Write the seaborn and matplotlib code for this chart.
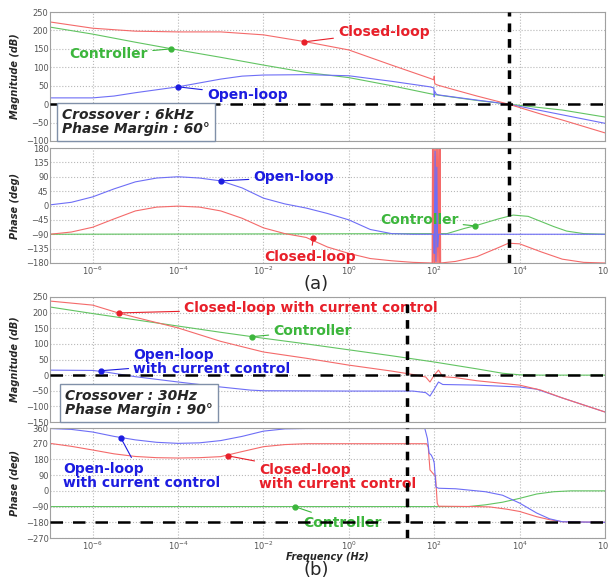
import numpy as np
import pandas as pd
import matplotlib.pyplot as plt
from matplotlib.ticker import NullLocator
import seaborn as sns

sns.set_theme(style="whitegrid")
plt.rcParams['font.family'] = ['DejaVu Sans']

# Frequencies are stored as log10(Hz); magnitude in dB, phase in degrees.

# ---- (a) magnitude ----
a_mag_closed_logf = [-7, -6, -5, -4, -3, -2, -1, 0, 1, 1.9, 1.99, 2.0, 2.01, 2.05, 2.1, 2.5, 3, 3.74, 4.5, 5, 6]
a_mag_closed = [223, 206, 198, 196, 196, 188, 169, 147, 106, 70, 66, 76, 56, 53, 51, 38, 22, 0, -27, -43, -78]
a_mag_ctrl_logf = [-7, -6, -5, -4, -3, -2, -1, 0, 1, 2, 3, 3.74, 5, 6]
a_mag_ctrl = [209, 190, 168, 147, 127, 106, 86, 72, 50, 26, 10, 0, -16, -35]
a_mag_open_logf = [-7, -6, -5.5, -5, -4, -3, -2.5, -2, -1, 0, 1, 1.9, 1.99, 2.0, 2.01, 2.05, 2.1, 3, 3.74, 5, 6]
a_mag_open = [17, 17, 22, 31, 47, 68, 76, 79, 80, 77, 62, 47, 44, 20, 35, 27, 25, 11, 0, -29, -52]

# ---- (a) phase ----
a_ph_open_logf = [-7, -6.5, -6, -5.5, -5, -4.5, -4, -3.5, -3, -2.5, -2, -1.5, -1, -0.5, 0, 0.5, 1, 1.5,
                  1.99, 2.0, 2.02, 2.04, 2.06, 2.08, 2.1, 2.5, 4, 5, 6]
a_ph_open = [2, 10, 27, 52, 74, 86, 90, 86, 77, 55, 23, 5, -8, -25, -45, -75, -88, -90,
             -90, -150, 170, -175, 120, -130, -90, -90, -90, -90, -90]
a_ph_closed_logf = [-7, -6.5, -6, -5.5, -5, -4.5, -4, -3.5, -3, -2.5, -2, -1.5, -1, -0.5, 0, 0.5, 1, 1.5,
                    1.95, 1.96, 1.975, 1.99, 2.005, 2.02, 2.035, 2.05, 2.065, 2.08, 2.095, 2.11, 2.125, 2.14, 2.15,
                    2.5, 3, 3.5, 3.74, 4, 4.5, 5, 5.5, 6]
a_ph_closed = [-90, -83, -68, -42, -17, -5, -2, -5, -17, -40, -70, -88, -100, -130, -150, -166, -173, -178,
               -180, 180, -180, 180, -180, 180, -180, 180, -180, 180, -180, 180, -180, 180, -180,
               -175, -160, -132, -118, -120, -145, -168, -178, -180]
a_ph_ctrl_logf = [-7, 2.3, 2.7, 3, 3.5, 3.85, 4.2, 4.5, 4.8, 5.1, 5.5, 6]
a_ph_ctrl = [-90, -88, -72, -62, -42, -30, -34, -50, -66, -80, -88, -90]

# ---- (b) magnitude ----
b_mag_closed_logf = [-7, -6, -5.4, -5, -4, -3, -2, -1, 0, 1, 1.5, 1.8, 1.9, 2.0, 2.1, 2.2, 2.5, 3, 4, 4.5, 5, 6]
b_mag_closed = [237, 224, 199, 185, 151, 108, 74, 54, 32, 13, 2, -6, -22, 0, 16, -5, -8, -18, -32, -48, -73, -118]
b_mag_ctrl_logf = [-7, -6, -5, -4, -3, -2, -1, 0, 1, 2, 3, 3.6, 4, 4.5, 6]
b_mag_ctrl = [218, 197, 177, 157, 137, 118, 100, 81, 62, 42, 20, 6, 1, 0, 0]
b_mag_open_logf = [-7, -6, -5.7, -5, -4, -3, -2.3, -2, 0, 1.5, 1.8, 1.9, 2.0, 2.1, 2.2, 3, 4, 4.4, 5, 6]
b_mag_open = [16, 15, 10, -5, -22, -38, -48, -50, -51, -51, -56, -67, -45, -22, -30, -32, -38, -45, -73, -118]

# ---- (b) phase ----
b_ph_open_logf = [-7, -6.5, -6, -5.5, -5, -4.5, -4, -3.5, -3, -2.5, -2, -1.5, -1, 1.78, 1.84, 1.88, 1.93,
                  1.97, 2.0, 2.04, 2.1, 2.5, 3.2, 3.6, 4, 4.4, 4.7, 5, 6]
b_ph_open = [357, 352, 337, 312, 292, 278, 272, 275, 288, 312, 342, 355, 357, 357, 300, 217, 205,
             185, 160, 22, 15, 12, -5, -25, -70, -127, -160, -177, -180]
b_ph_closed_logf = [-7, -6.5, -6, -5.5, -5, -4.5, -4, -3.5, -3, -2.5, -2, -1.5, -1, 1.82, 1.86, 1.9, 1.97,
                    2.03, 2.07, 2.1, 3, 3.3, 3.7, 4, 4.4, 4.7, 5, 6]
b_ph_closed = [272, 255, 234, 212, 197, 190, 188, 190, 196, 225, 253, 265, 270, 270, 250, 120, 100,
               85, -70, -88, -90, -92, -105, -118, -148, -165, -177, -180]
b_ph_ctrl_logf = [-7, 2.8, 3.2, 3.6, 4, 4.4, 4.8, 5.2, 6]
b_ph_ctrl = [-90, -90, -80, -65, -43, -18, -5, 0, 0]

# crossover frequencies as drawn (Hz)
crossover_a_hz = 5.5e3
crossover_b_hz = 23

# callouts: series, text, dot (logf, value), text (logf, value), alignment
a_mag_notes = [('controller', 'Controller', -4.16, 150, -5.62, 135, 'center'),
               ('open', 'Open-loop', -4.0, 47, -2.38, 25, 'center'),
               ('closed', 'Closed-loop', -1.04, 169, 0.82, 196, 'center')]
a_ph_notes = [('open', 'Open-loop', -3.0, 77, -1.29, 89, 'center'),
              ('closed', 'Closed-loop', -0.83, -101, -0.9, -161, 'center'),
              ('controller', 'Controller', 2.96, -64, 1.65, -45, 'center')]
b_mag_notes = [('closed', 'Closed-loop with current control', -5.39, 199, -0.89, 215, 'center'),
               ('controller', 'Controller', -2.28, 123, -0.85, 141, 'center'),
               ('open', 'Open-loop\nwith current control', -5.81, 14, -5.05, 42, 'left')]
b_ph_notes = [('open', 'Open-loop\nwith current control', -5.34, 303, -6.7, 85, 'left'),
              ('closed', 'Closed-loop\nwith current control', -2.82, 200, -2.1, 80, 'left'),
              ('controller', 'Controller', -1.27, -90, -0.14, -184, 'center')]

line_colors = {'closed': '#f46a6a', 'controller': '#62c462', 'open': '#6e6ef6'}
text_colors = {'closed': '#e8202a', 'controller': '#3cb63c', 'open': '#1c1ce0'}


def frame(curves):
    parts = []
    for name, (logf, vals) in curves.items():
        parts.append(pd.DataFrame({'freq': 10.0 ** np.asarray(logf, dtype=float),
                                   'value': vals, 'series': name}))
    return pd.concat(parts, ignore_index=True)


def draw_panel(ax, curves, notes, ylim, yticks, show_xlabels):
    df = frame(curves)
    sns.lineplot(data=df, x='freq', y='value', hue='series', palette=line_colors,
                 estimator=None, sort=False, linewidth=0.8, legend=False, ax=ax)
    ax.set_xscale('log')
    ax.set_xlim(1e-7, 1e6)
    ax.set_ylim(*ylim)
    ax.set_yticks(yticks)
    ax.set_xticks([1e-6, 1e-4, 1e-2, 1e0, 1e2, 1e4, 1e6])
    ax.xaxis.set_minor_locator(NullLocator())
    ax.grid(True, linestyle=':', color='#b8b8b8', linewidth=0.8)
    ax.tick_params(labelsize=6, colors='#555555', pad=1, length=0)
    if not show_xlabels:
        ax.tick_params(labelbottom=False)
    ax.set_xlabel('')
    for s in ax.spines.values():
        s.set_color('#a0a0a0')
        s.set_linewidth(0.8)
    for series, txt, dx, dy, tx, ty, ha in notes:
        ax.plot([10.0 ** dx], [dy], 'o', color=text_colors[series], markersize=3.5, zorder=6)
        ax.annotate(txt, xy=(10.0 ** dx, dy), xytext=(10.0 ** tx, ty), ha=ha, va='center',
                    fontsize=10, fontweight='bold', color=text_colors[series],
                    multialignment='left', linespacing=1.0, zorder=3,
                    arrowprops=dict(arrowstyle='-', color=text_colors[series], lw=0.8,
                                    shrinkA=1, shrinkB=0))


fig = plt.figure(figsize=(6.08, 5.79), dpi=100)
H = 579.0
left, width = 50 / 608, 555 / 608
ax1 = fig.add_axes([left, (H - 141) / H, width, 129 / H])
ax2 = fig.add_axes([left, (H - 263) / H, width, 115 / H])
ax3 = fig.add_axes([left, (H - 422) / H, width, 125 / H])
ax4 = fig.add_axes([left, (H - 538) / H, width, 110 / H])

draw_panel(ax1, {'controller': (a_mag_ctrl_logf, a_mag_ctrl),
                 'open': (a_mag_open_logf, a_mag_open),
                 'closed': (a_mag_closed_logf, a_mag_closed)},
           a_mag_notes, (-100, 250), range(-100, 251, 50), False)
draw_panel(ax2, {'controller': (a_ph_ctrl_logf, a_ph_ctrl),
                 'closed': (a_ph_closed_logf, a_ph_closed),
                 'open': (a_ph_open_logf, a_ph_open)},
           a_ph_notes, (-180, 180), range(-180, 181, 45), True)
draw_panel(ax3, {'controller': (b_mag_ctrl_logf, b_mag_ctrl),
                 'open': (b_mag_open_logf, b_mag_open),
                 'closed': (b_mag_closed_logf, b_mag_closed)},
           b_mag_notes, (-150, 250), range(-150, 251, 50), False)
draw_panel(ax4, {'controller': (b_ph_ctrl_logf, b_ph_ctrl),
                 'closed': (b_ph_closed_logf, b_ph_closed),
                 'open': (b_ph_open_logf, b_ph_open)},
           b_ph_notes, (-270, 360), range(-270, 361, 90), True)

lab = dict(fontsize=7, fontweight='bold', fontstyle='italic', labelpad=4)
ax1.set_ylabel('Magnitude (dB)', **lab)
ax2.set_ylabel('Phase (deg)', **lab)
ax3.set_ylabel('Magnitude (dB)', **lab)
ax4.set_ylabel('Phase (deg)', **lab)
ax4.set_xlabel('Frequency (Hz)', fontsize=7, fontweight='bold', fontstyle='italic', labelpad=0)

# reference dashed lines
dash_h = dict(color='black', linestyle=(0, (5, 4)), linewidth=1.8, zorder=5)
dash_v = dict(color='black', linestyle=(0, (2.5, 2)), linewidth=2.5, zorder=5)
ax1.axhline(0, **dash_h)
ax3.axhline(0, **dash_h)
ax4.axhline(-180, **dash_h)
for ax in (ax1, ax2):
    ax.axvline(crossover_a_hz, **dash_v)
for ax in (ax3, ax4):
    ax.axvline(crossover_b_hz, **dash_v)

box = dict(boxstyle='square,pad=0.35', facecolor='white', edgecolor='#8090a8', linewidth=1)
ax1.text(0.022, 0.04, 'Crossover : 6kHz\nPhase Margin : 60°', transform=ax1.transAxes,
         fontsize=10, fontweight='bold', fontstyle='italic', va='bottom', ha='left',
         linespacing=1.0, bbox=box, zorder=7)
ax3.text(0.027, 0.04, 'Crossover : 30Hz\nPhase Margin : 90°', transform=ax3.transAxes,
         fontsize=10, fontweight='bold', fontstyle='italic', va='bottom', ha='left',
         linespacing=1.0, bbox=box, zorder=7)

fig.text(316 / 608, 1 - 284 / H, '(a)', fontsize=13, ha='center', va='center')
fig.text(316 / 608, 1 - 570 / H, '(b)', fontsize=13, ha='center', va='center')

fig.savefig('out.png', dpi=100, facecolor='white')
